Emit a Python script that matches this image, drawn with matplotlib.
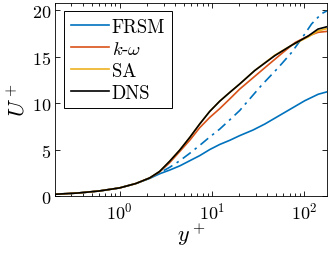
import numpy as np
import matplotlib
matplotlib.use("Agg")
import matplotlib.pyplot as plt

plt.rcParams['font.family'] = 'serif'
plt.rcParams['font.serif'] = ['cmr10']
plt.rcParams['mathtext.fontset'] = 'cm'
plt.rcParams['axes.formatter.use_mathtext'] = True
plt.rcParams['font.size'] = 13

# values
yp_frsm = [0.2, 0.35, 0.6, 1.0, 1.5, 2.12, 2.72, 3.5, 4.5, 5.77, 7.4, 9.5, 12.2,
           15.7, 20.1, 28, 37.7, 62, 102, 143, 177]
u_frsm = [0.2, 0.33, 0.55, 0.88, 1.35, 1.9, 2.4, 2.8, 3.25, 3.8, 4.35, 5.0, 5.55,
          6.0, 6.5, 7.1, 7.75, 9.0, 10.25, 10.95, 11.2]

yp_frsm2 = [0.2, 0.35, 0.6, 1.0, 1.5, 2.12, 2.72, 3.5, 4.5, 5.77, 7.4, 9.5, 12.2,
            15.7, 20.1, 34.6, 52.6, 73, 94, 121, 155, 177]
u_frsm2 = [0.2, 0.33, 0.55, 0.88, 1.35, 1.95, 2.5, 3.1, 3.8, 4.6, 5.45, 6.35, 7.2,
           8.2, 9.2, 11.9, 13.8, 15.4, 16.9, 18.5, 19.6, 19.9]

yp_kw = [0.2, 0.35, 0.6, 1.0, 1.5, 2.12, 2.72, 3.5, 4.5, 5.77, 7.4, 9.5, 12.2,
         15.7, 20.1, 37.7, 57, 80, 111, 142, 177]
u_kw = [0.2, 0.33, 0.55, 0.88, 1.35, 1.95, 2.6, 3.6, 4.8, 6.0, 7.35, 8.45, 9.4,
        10.45, 11.5, 13.8, 15.3, 16.5, 17.2, 17.6, 17.7]

yp_sa = [0.2, 0.35, 0.6, 1.0, 1.5, 2.12, 2.72, 3.5, 4.5, 5.77, 7.4, 9.5, 12.2,
         15.7, 20.1, 29.3, 48.4, 73.2, 111, 142, 177]
u_sa = [0.2, 0.33, 0.55, 0.88, 1.35, 1.95, 2.65, 3.75, 4.95, 6.3, 7.75, 9.1, 10.2,
        11.15, 12.05, 13.5, 15.15, 16.2, 17.1, 17.75, 18.0]

yp_dns = [0.2, 0.35, 0.6, 1.0, 1.5, 2.12, 2.72, 3.5, 4.5, 5.77, 7.4, 9.5, 12.2,
          15.7, 20.1, 29.3, 48.4, 73.2, 111, 142, 177]
u_dns = [0.2, 0.33, 0.55, 0.88, 1.35, 1.95, 2.65, 3.75, 4.95, 6.3, 7.75, 9.1, 10.2,
         11.15, 12.05, 13.5, 15.1, 16.2, 17.2, 17.95, 18.2]

fig = plt.figure(figsize=(3.32, 2.55), dpi=100)
ax = fig.add_axes([0.166, 0.227, 0.819, 0.759])

ax.plot(yp_frsm, u_frsm, color='#0072BD', lw=1.2, label='FRSM')
ax.plot(yp_frsm2, u_frsm2, color='#0072BD', lw=1.2, ls=(0, (6, 3, 1.5, 3)))
ax.plot(yp_kw, u_kw, color='#D95319', lw=1.2, label=r'$k$-$\omega$')
ax.plot(yp_sa, u_sa, color='#EDB120', lw=1.2, label='SA')
ax.plot(yp_dns, u_dns, color='k', lw=1.2, label='DNS')

ax.set_xscale('log')
ax.set_xlim(0.2, 178)
ax.set_ylim(0, 20.8)
ax.set_yticks([0, 5, 10, 15, 20])
ax.tick_params(which='both', direction='in', top=True, right=True, width=0.6)
ax.tick_params(which='major', length=3.5, pad=3)
ax.tick_params(which='minor', length=2)
for s in ax.spines.values():
    s.set_linewidth(0.6)

ax.set_xlabel(r'$y^+$', fontsize=16, labelpad=0)
ax.set_ylabel(r'$U^+$', fontsize=16, labelpad=2)

leg = ax.legend(loc='upper left', bbox_to_anchor=(0.033, 0.956), fancybox=False,
                framealpha=1, edgecolor='k', handlelength=2.05, handletextpad=0.15,
                borderpad=0.35, labelspacing=0.22, borderaxespad=0, fontsize=13.5)
leg.get_frame().set_linewidth(0.7)

fig.savefig('out.png', dpi=100)
